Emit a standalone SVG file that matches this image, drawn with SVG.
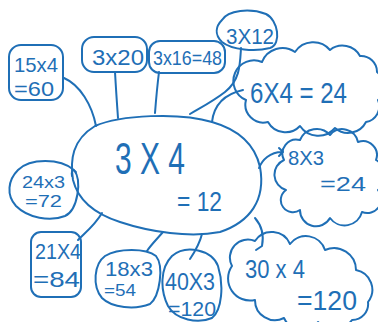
<svg xmlns="http://www.w3.org/2000/svg" width="378" height="322" viewBox="0 0 378 322">
<style>
.s{fill:none;stroke:#1f6fb6;stroke-width:2;stroke-linecap:round;stroke-linejoin:round}
.t{fill:#1f6fb6;font-family:"Liberation Sans","DejaVu Sans",sans-serif}
</style>
<rect width="378" height="322" fill="#fff"/>
<g id="connectors" class="s">
<path d="M64,78 C80,85 92,105 96,126"/>
<path d="M115,72 C116,90 117,104 118,118"/>
<path d="M159,72 C157,88 156,100 155,113"/>
<path d="M241,48 C240,65 240,80 225,92 C212,102 200,108 190,114"/>
<path d="M243,90 C225,94 214,104 212,122"/>
<path d="M259,168 C262,160 270,152 282,152 M279,148 L283,152 L279,156"/>
<path d="M76,172 C73,168 71,172 72,176"/>
<path d="M102,213 C95,225 86,232 78,240"/>
<path d="M163,232 C156,240 150,246 147,251"/>
<path d="M202,234 C200,242 196,250 190,259"/>
<path d="M255,218 C262,226 264,236 262,246 L256,250"/>
</g>
<g id="center">
<path class="s" d="M95,126 C120,115 180,112 212,122 C240,130 255,145 260,167 C266,200 250,222 220,232 C190,238 150,232 120,222 C95,214 78,200 73,180 C70,160 72,140 95,126 Z"/>
<text class="t" x="115" y="174" font-size="44" textLength="70" lengthAdjust="spacingAndGlyphs">3 X 4</text>
<text class="t" x="177" y="211" font-size="27" textLength="45" lengthAdjust="spacingAndGlyphs">= 12</text>
</g>
<g id="n15x4">
<rect class="s" x="9" y="45" width="54" height="55" rx="12"/>
<text class="t" x="14" y="72" font-size="21" textLength="44" lengthAdjust="spacingAndGlyphs">15x4</text>
<text class="t" x="14" y="96" font-size="20" textLength="40" lengthAdjust="spacingAndGlyphs">=60</text>
</g>
<g id="n3x20">
<rect class="s" x="82" y="37" width="65" height="35" rx="12"/>
<text class="t" x="92" y="65" font-size="22" textLength="52" lengthAdjust="spacingAndGlyphs">3x20</text>
</g>
<g id="n3x16">
<rect class="s" x="149" y="41" width="76" height="32" rx="11"/>
<text class="t" x="153" y="65" font-size="21" textLength="69" lengthAdjust="spacingAndGlyphs">3x16=48</text>
</g>
<g id="n3x12">
<path class="s" d="M222,20 C228,10 250,8 266,14 C278,20 282,44 270,48 C255,52 232,50 222,42 C214,34 216,26 222,20 Z"/>
<text class="t" x="226" y="44" font-size="22" textLength="48" lengthAdjust="spacingAndGlyphs">3X12</text>
</g>
<g id="n6x4">
<path class="s" d="M246,100 A20,20 0 0 1 262,62 A22,22 0 0 1 295,52 A22,22 0 0 1 330,50 A20,20 0 0 1 360,56 A16,16 0 0 1 377,72 A18,18 0 0 1 378,100 A16,16 0 0 1 366,122 A20,20 0 0 1 335,128 A22,22 0 0 1 300,126 A20,20 0 0 1 268,122 A18,18 0 0 1 246,100 Z"/>
<text class="t" x="250" y="103" font-size="29" textLength="97" lengthAdjust="spacingAndGlyphs">6X4 = 24</text>
</g>
<g id="n8x3">
<path class="s" d="M284,160 A14,14 0 0 1 300,140 A18,18 0 0 1 330,135 A16,16 0 0 1 358,142 A14,14 0 0 1 376,160 A18,18 0 0 1 378,190 A14,14 0 0 1 362,212 A18,18 0 0 1 330,218 A16,16 0 0 1 300,210 A12,12 0 0 1 286,190 A16,16 0 0 1 284,160 Z"/>
<text class="t" x="288" y="165" font-size="21" textLength="36" lengthAdjust="spacingAndGlyphs">8X3</text>
<text class="t" x="320" y="191" font-size="21" textLength="46" lengthAdjust="spacingAndGlyphs">=24</text>
</g>
<g id="n24x3">
<path class="s" d="M18,170 C30,158 60,158 74,170 C82,180 78,210 65,216 C50,222 28,218 16,206 C6,195 8,180 18,170 Z"/>
<text class="t" x="22" y="188" font-size="16" textLength="43" lengthAdjust="spacingAndGlyphs">24x3</text>
<text class="t" x="25" y="207" font-size="16" textLength="37" lengthAdjust="spacingAndGlyphs">=72</text>
</g>
<g id="n21x4">
<rect class="s" x="31" y="232" width="50" height="65" rx="10"/>
<text class="t" x="35" y="259" font-size="22" textLength="46" lengthAdjust="spacingAndGlyphs">21X4</text>
<text class="t" x="33" y="287" font-size="22" textLength="47" lengthAdjust="spacingAndGlyphs">=84</text>
</g>
<g id="n18x3">
<path class="s" d="M105,256 C118,248 146,248 156,256 C164,266 160,296 150,304 C135,310 112,308 102,298 C92,286 94,264 105,256 Z"/>
<text class="t" x="105" y="276" font-size="20" textLength="48" lengthAdjust="spacingAndGlyphs">18x3</text>
<text class="t" x="104" y="296" font-size="16" textLength="32" lengthAdjust="spacingAndGlyphs">=54</text>
</g>
<g id="n40x3">
<path class="s" d="M172,256 C186,244 212,250 218,266 C224,285 222,310 212,318 C198,324 176,320 168,306 C160,290 160,268 172,256 Z"/>
<text class="t" x="165" y="290" font-size="23" textLength="50" lengthAdjust="spacingAndGlyphs">40X3</text>
<text class="t" x="168" y="316" font-size="21" textLength="48" lengthAdjust="spacingAndGlyphs">=120</text>
</g>
<g id="n30x4">
<path class="s" d="M232,266 A18,18 0 0 1 255,241 A20,20 0 0 1 290,244 A20,20 0 0 1 325,250 A22,22 0 0 1 356,270 A20,20 0 0 1 368,302 A16,16 0 0 1 352,320 A22,22 0 0 1 318,322 A20,20 0 0 1 284,318 A20,20 0 0 1 255,300 A22,22 0 0 1 232,266 Z"/>
<text class="t" x="245" y="278" font-size="25" textLength="60" lengthAdjust="spacingAndGlyphs">30 x 4</text>
<text class="t" x="297" y="310" font-size="27" textLength="60" lengthAdjust="spacingAndGlyphs">=120</text>
</g>
</svg>
